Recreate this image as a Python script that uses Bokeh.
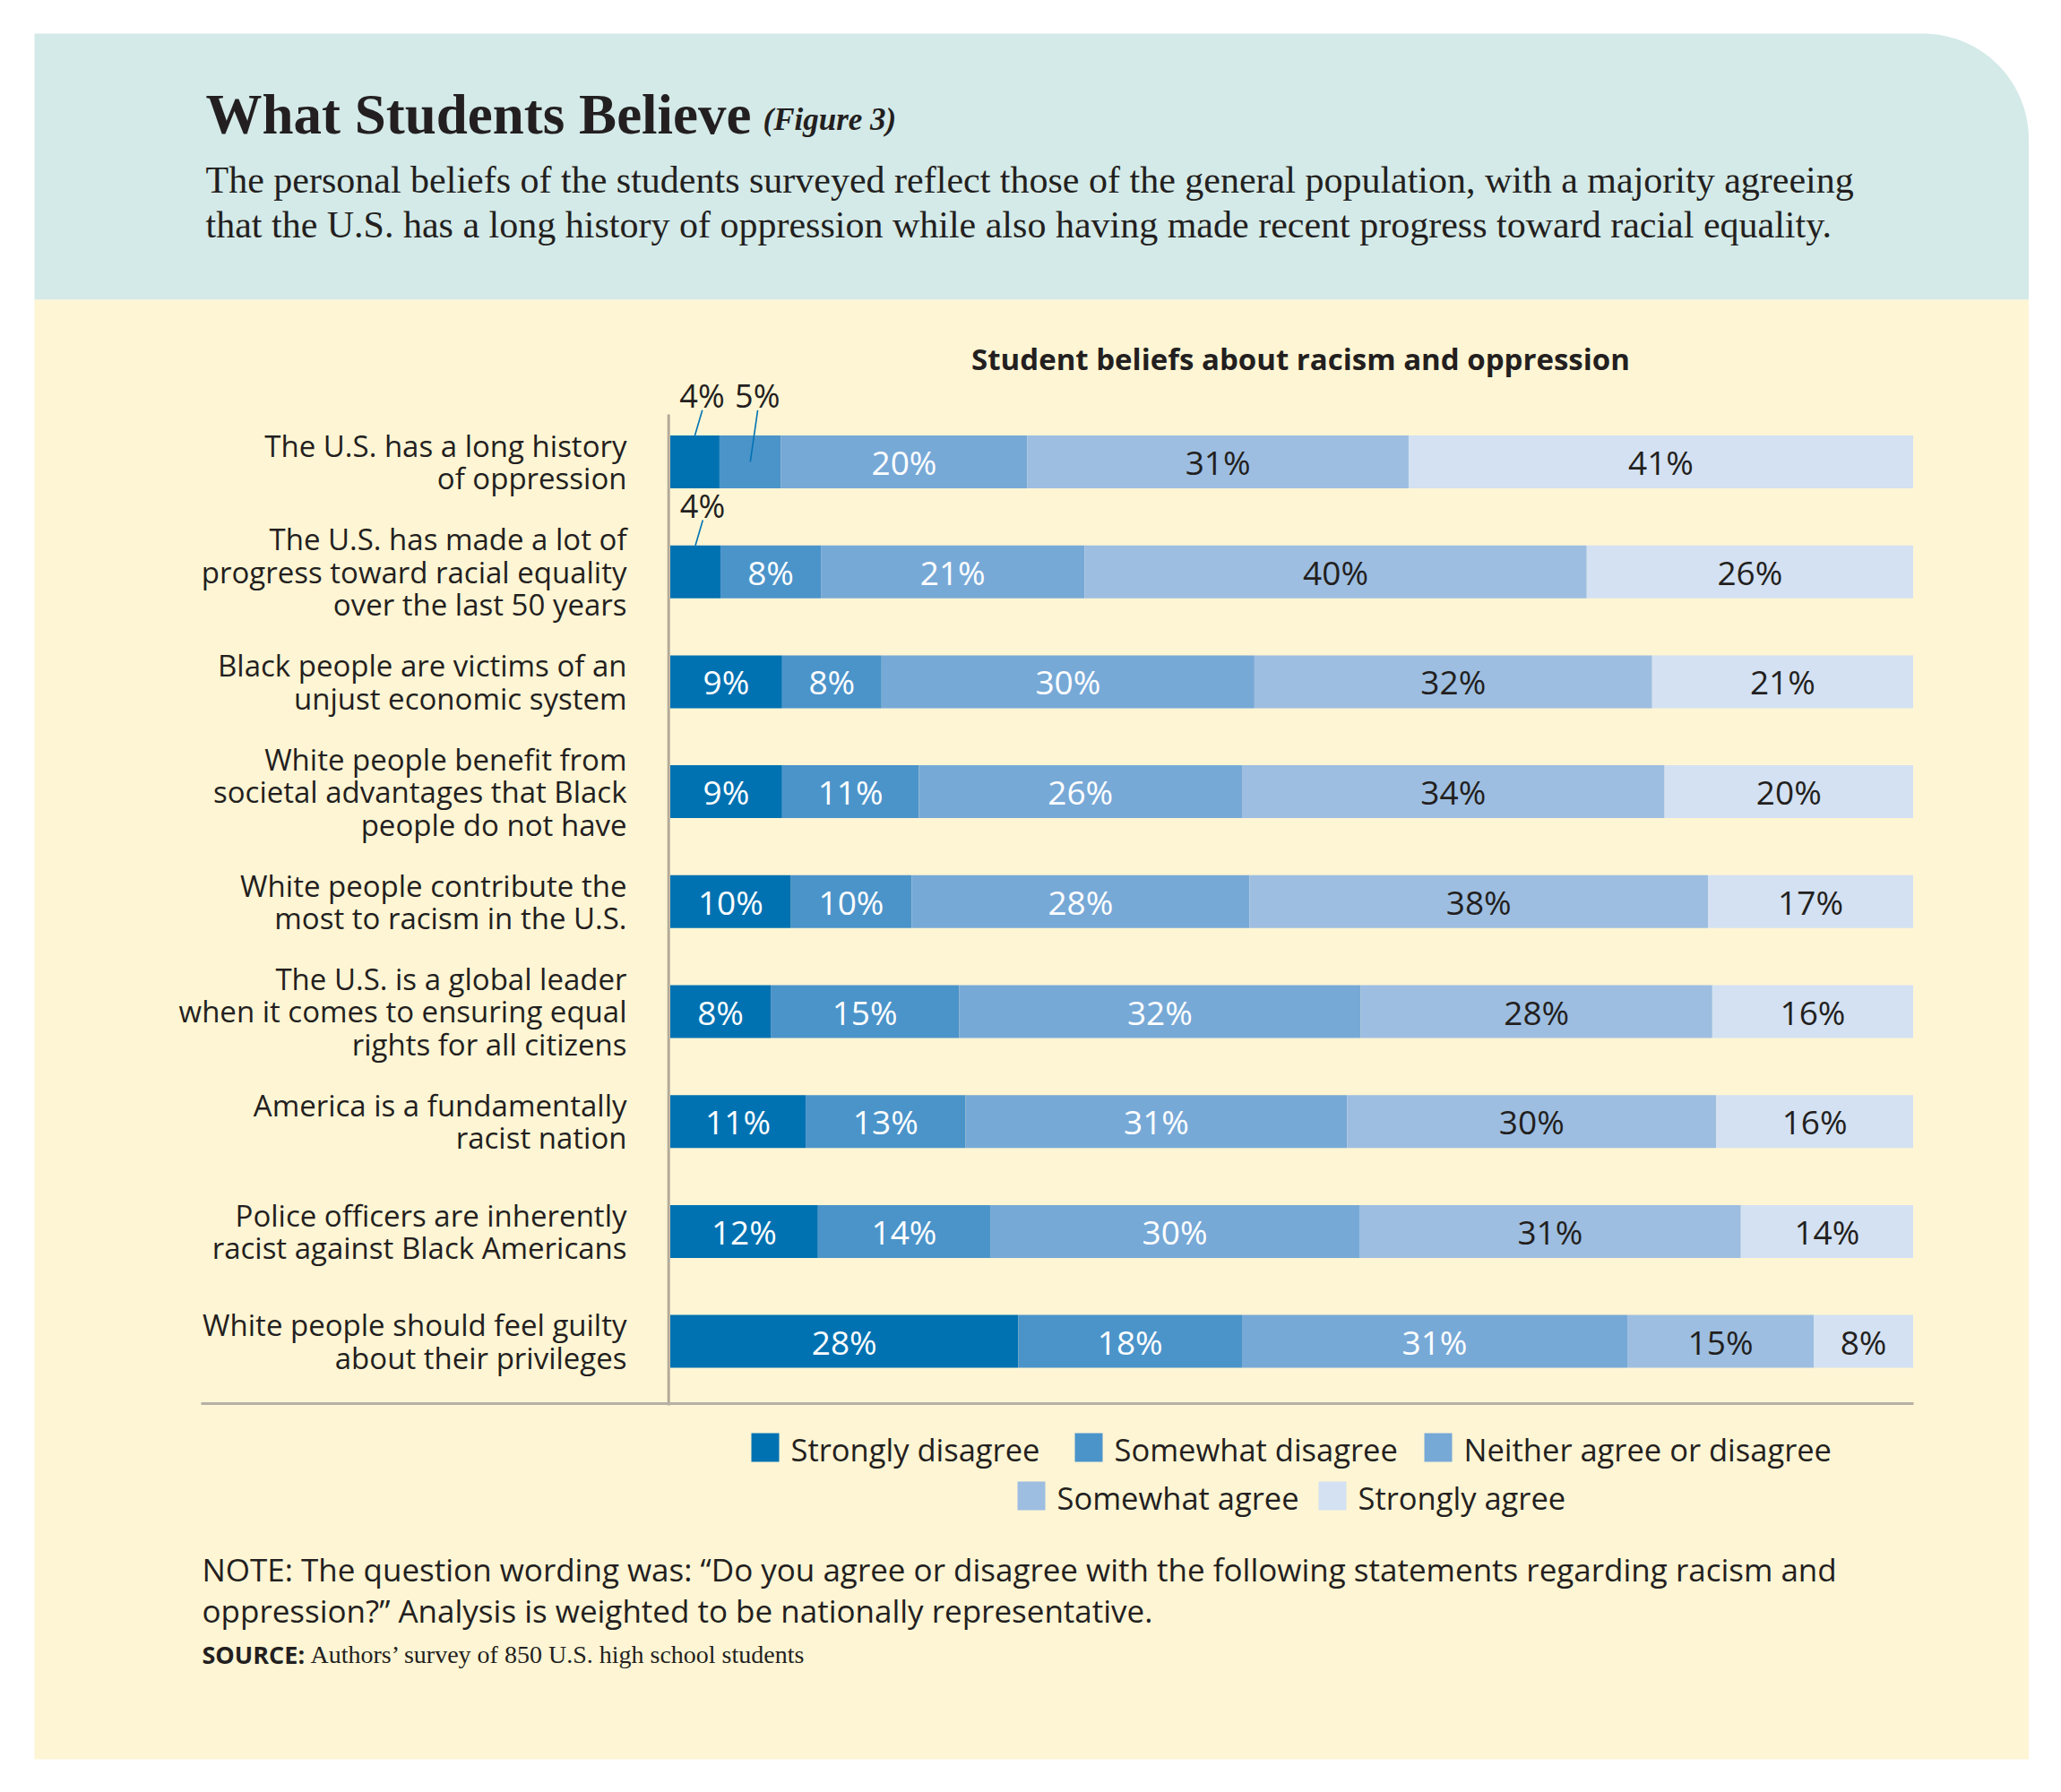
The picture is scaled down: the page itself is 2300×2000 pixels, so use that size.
import numpy as np
from bokeh.plotting import figure
from bokeh.models import Range1d
from bokeh.core.properties import value
from bokeh.embed import file_html
from bokeh.resources import INLINE

# ---------------- data ----------------
statements = [
    "The U.S. has a long history\nof oppression",
    "The U.S. has made a lot of\nprogress toward racial equality\nover the last 50 years",
    "Black people are victims of an\nunjust economic system",
    "White people benefit from\nsocietal advantages that Black\npeople do not have",
    "White people contribute the\nmost to racism in the U.S.",
    "The U.S. is a global leader\nwhen it comes to ensuring equal\nrights for all citizens",
    "America is a fundamentally\nracist nation",
    "Police officers are inherently\nracist against Black Americans",
    "White people should feel guilty\nabout their privileges",
]
responses = ["Strongly disagree", "Somewhat disagree", "Neither agree or disagree",
             "Somewhat agree", "Strongly agree"]
strongly_disagree = [4, 4, 9, 9, 10, 8, 11, 12, 28]
somewhat_disagree = [5, 8, 8, 11, 10, 15, 13, 14, 18]
neither_agree = [20, 21, 30, 26, 28, 32, 31, 30, 31]
somewhat_agree = [31, 40, 32, 34, 38, 28, 30, 31, 15]
strongly_agree = [41, 26, 21, 20, 17, 16, 16, 14, 8]
series = [strongly_disagree, somewhat_disagree, neither_agree, somewhat_agree, strongly_agree]
colors = ["#0072b2", "#4b94ca", "#77a9d7", "#9dbee1", "#d3e1f2"]
label_colors = ["white", "white", "white", "#231f20", "#231f20"]

title = "What Students Believe"
figure_tag = "(Figure 3)"
subtitle = ["The personal beliefs of the students surveyed reflect those of the general population, with a majority agreeing",
            "that the U.S. has a long history of oppression while also having made recent progress toward racial equality."]
chart_title = "Student beliefs about racism and oppression"
note = ["NOTE: The question wording was: \u201cDo you agree or disagree with the following statements regarding racism and",
        "oppression?\u201d Analysis is weighted to be nationally representative."]
source_head = "SOURCE:"
source_body = "Authors\u2019 survey of 850 U.S. high school students"

# ---------------- layout constants (page pixels) ----------------
W, H = 2300, 2000
X0_PX, X100_PX = 747.5, 2134.5        # pixel position of 0% and 100%
ROW0_PX, ROW_STEP = 515.0, 122.7       # pixel centre of first row and row pitch
BAR_PX = 59.0
SANS = "Open Sans"
SERIF = "Liberation Serif"
DARK = "#231f20"

s = (X100_PX - X0_PX) / 100.0

p = figure(width=W, height=H, output_backend="svg", toolbar_location=None,
           x_range=Range1d(0, W), y_range=Range1d(H, 0),
           x_axis_location=None, y_axis_location=None, min_border=0,
           background_fill_color="white", border_fill_color="white",
           outline_line_color=None)
for g in p.grid:
    g.visible = False
p.extra_x_ranges = {"pct": Range1d(-X0_PX / s, (W - X0_PX) / s)}
p.extra_y_ranges = {"row": Range1d((H - ROW0_PX) / ROW_STEP, -ROW0_PX / ROW_STEP)}

# ---------------- panels ----------------
R = 118
ang = np.linspace(np.pi / 2, 0, 40)
top, bottom, left, right = 37, 334, 38, 2263.5
px = [left] + list(right - R + R * np.cos(ang)) + [right, left]
py = [top] + list(top + R - R * np.sin(ang)) + [bottom, bottom]
p.patch(px, py, fill_color="#d4eae8", line_color=None)
p.quad(left=[left], right=[right], top=[bottom], bottom=[1963], fill_color="#fef5d4", line_color=None)

# ---------------- header texts ----------------
p.text(x=[229], y=[127], text=[title], text_font=value(SERIF), text_font_style="bold",
       text_font_size="63px", text_color=DARK, text_baseline="middle")
p.text(x=[851], y=[133], text=[figure_tag], text_font=value(SERIF), text_font_style="bold italic",
       text_font_size="35px", text_color=DARK, text_baseline="middle")
p.text(x=[229, 229], y=[200, 250], text=subtitle, text_font=value(SERIF),
       text_font_size="42px", text_color=DARK, text_baseline="middle")
p.text(x=[1451], y=[400], text=[chart_title], text_font=value(SANS), text_font_style="bold",
       text_font_size="33px", text_color=DARK, text_align="center", text_baseline="middle")

# ---------------- bars ----------------
rows = list(range(len(statements)))
totals = np.sum(np.array(series, dtype=float), axis=0)
cum = np.zeros(len(rows))
h = BAR_PX / ROW_STEP
in_x, in_y, in_t, in_c = [], [], [], []
out_x, out_y, out_t = [], [], []
ld_x0, ld_y0, ld_x1, ld_y1 = [], [], [], []
for j, vals in enumerate(series):
    share = np.array(vals, dtype=float) / totals * 100.0
    lft = cum.copy()
    rgt = cum + share
    p.hbar(y=rows, left=lft, right=rgt, height=h, fill_color=colors[j], line_color=None,
           x_range_name="pct", y_range_name="row")
    for i, v in enumerate(vals):
        mid = (lft[i] + rgt[i]) / 2.0
        if v >= 6:
            in_x.append(mid); in_y.append(rows[i]); in_t.append(f"{v}%"); in_c.append(label_colors[j])
        else:
            out_x.append(mid); out_y.append(rows[i] - 0.6); out_t.append(f"{v}%")
            ld_x0.append(mid + 0.6); ld_y0.append(rows[i] - 0.47)
            ld_x1.append(mid); ld_y1.append(rows[i] - h / 2 if j == 0 else rows[i])
    cum = rgt

p.text(x=in_x, y=in_y, text=in_t, text_color=in_c, text_font=value(SANS), text_font_size="37px",
       text_align="center", text_baseline="middle", x_range_name="pct", y_range_name="row")
p.text(x=out_x, y=out_y, text=out_t, text_color=DARK, text_font=value(SANS), text_font_size="36px",
       text_align="center", text_baseline="middle", x_offset=8, x_range_name="pct", y_range_name="row")
p.segment(x0=ld_x0, y0=ld_y0, x1=ld_x1, y1=ld_y1, line_color="#0072b2", line_width=1.6,
          x_range_name="pct", y_range_name="row")

# category labels
p.text(x=[699] * len(rows), y=rows, text=statements, text_font=value(SANS), text_font_size="33px",
       text_color=DARK, text_align="right", text_baseline="middle", text_line_height=0.81,
       y_range_name="row")

# axis line and baseline
p.segment(x0=[745.7], y0=[462], x1=[745.7], y1=[1568], line_color="#b3aa98", line_width=3)
p.segment(x0=[224], y0=[1566], x1=[2135], y1=[1566], line_color="#b5b0a5", line_width=3)

# ---------------- legend ----------------
leg_x = [838, 1199, 1589, 1135, 1471]
leg_top = [1599, 1599, 1599, 1653, 1653]
p.quad(left=leg_x, right=[x + 31 for x in leg_x], top=leg_top, bottom=[t + 32 for t in leg_top],
       fill_color=colors, line_color=None)
p.text(x=[x + 44 for x in leg_x], y=[t + 18 for t in leg_top], text=responses, text_font=value(SANS),
       text_font_size="34.5px", text_color=DARK, text_baseline="middle")

# ---------------- note & source ----------------
p.text(x=[225, 225], y=[1751, 1797], text=note, text_font=value(SANS), text_font_size="35px",
       text_color=DARK, text_baseline="middle")
p.text(x=[225], y=[1846], text=[source_head], text_font=value(SANS), text_font_size="27px",
       text_font_style="bold", text_color=DARK, text_baseline="middle")
p.text(x=[346], y=[1846], text=[source_body], text_font=value(SERIF), text_font_size="28px",
       text_color=DARK, text_baseline="middle")

open("out.html", "w").write(file_html(p, INLINE))
